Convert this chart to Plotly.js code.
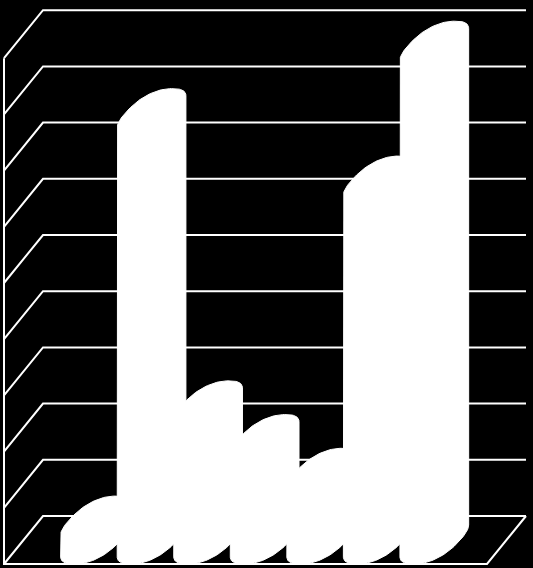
<!DOCTYPE html>
<html>
<head>
<meta charset="utf-8">
<script src="https://cdn.plot.ly/plotly-3.0.1.min.js"></script>
<style>html,body{margin:0;padding:0;background:#000;overflow:hidden}</style>
</head>
<body>
<div id="chart" style="width:533px;height:568px"></div>
<script>
var categories = [0, 1, 2, 3, 4, 5, 6];
var seriesValues = [0.15, 7.4, 2.2, 1.6, 1.0, 6.2, 8.6];
var gridValues = [0, 1, 2, 3, 4, 5, 6, 7, 8, 9];

// plot scale: category step and value step in pixels
var W = 533, H = 568;
var stepX = 56.55, stepY = 56.2, originX = 109.6, originY = 516;
var xRange = [-originX / stepX, (W - originX) / stepX];
var yRange = [(originY - H) / stepY, originY / stepY];

// oblique projection: the wall offset of the chart box, in axis units
var wallDX = 39 / stepX, wallDY = 48 / stepY;
var wallLeft = (43 - originX) / stepX, wallRight = (526 - originX) / stepX;
// cylinder cross-section (skewed, slightly squared ellipse), in axis units
var A = 25 / stepX, B = 21 / stepX, D = 23 / stepY, roundness = 0.85;
var barDX = 14.6 / stepX, barDY = 11.5 / stepY, baseDY = 25 / stepY;

var traces = [];
var lineStyle = {color: '#fff', width: 2};

gridValues.forEach(function (g) {
  traces.push({
    type: 'scatter', mode: 'lines', hoverinfo: 'skip', showlegend: false,
    x: [wallLeft - wallDX, wallLeft, wallRight],
    y: [g - wallDY, g, g],
    line: lineStyle
  });
});
// front axis edge, front floor edge, right floor edge
var gridTop = gridValues[gridValues.length - 1];
traces.push({
  type: 'scatter', mode: 'lines', hoverinfo: 'skip', showlegend: false,
  x: [wallLeft - wallDX, wallLeft - wallDX, wallRight - wallDX, wallRight],
  y: [gridTop - wallDY, -wallDY, -wallDY, 0],
  line: lineStyle
});

function pw(v) { return (v < 0 ? -1 : 1) * Math.pow(Math.abs(v), roundness); }
function ell(cx, cy, t) {
  var c = pw(Math.cos(t)), s = pw(Math.sin(t));
  return [cx + A * c + B * s, cy + D * s];
}
var tR = 0, best = -1, q, cand;      // angle of the right-most point
for (q = 0; q <= 200; q++) {
  cand = ell(0, 0, Math.PI / 2 * q / 200)[0];
  if (cand > best) { best = cand; tR = Math.PI / 2 * q / 200; }
}
categories.forEach(function (c, i) {
  var cx = c - barDX, y1 = seriesValues[i] - barDY, xs = [], ys = [], k, p, n = 60;
  var y0 = -baseDY;
  for (k = 0; k <= n; k++) {        // lower half of the base
    p = ell(cx, y0, tR - Math.PI * k / n);
    xs.push(p[0]); ys.push(p[1]);
  }
  for (k = 0; k <= n; k++) {        // upper half of the top cap
    p = ell(cx, y1, tR + Math.PI - Math.PI * k / n);
    xs.push(p[0]); ys.push(p[1]);
  }
  xs.push(xs[0]); ys.push(ys[0]);
  traces.push({
    type: 'scatter', mode: 'lines', fill: 'toself', fillcolor: '#fff',
    hoverinfo: 'skip', showlegend: false,
    x: xs, y: ys, line: {color: '#fff', width: 1}
  });
});

Plotly.newPlot('chart', traces, {
  width: W, height: H,
  margin: {l: 0, r: 0, t: 0, b: 0},
  paper_bgcolor: '#000', plot_bgcolor: '#000',
  showlegend: false,
  xaxis: {range: xRange, visible: false, fixedrange: true},
  yaxis: {range: yRange, visible: false, fixedrange: true}
}, {displayModeBar: false, staticPlot: true});
</script>
</body>
</html>
